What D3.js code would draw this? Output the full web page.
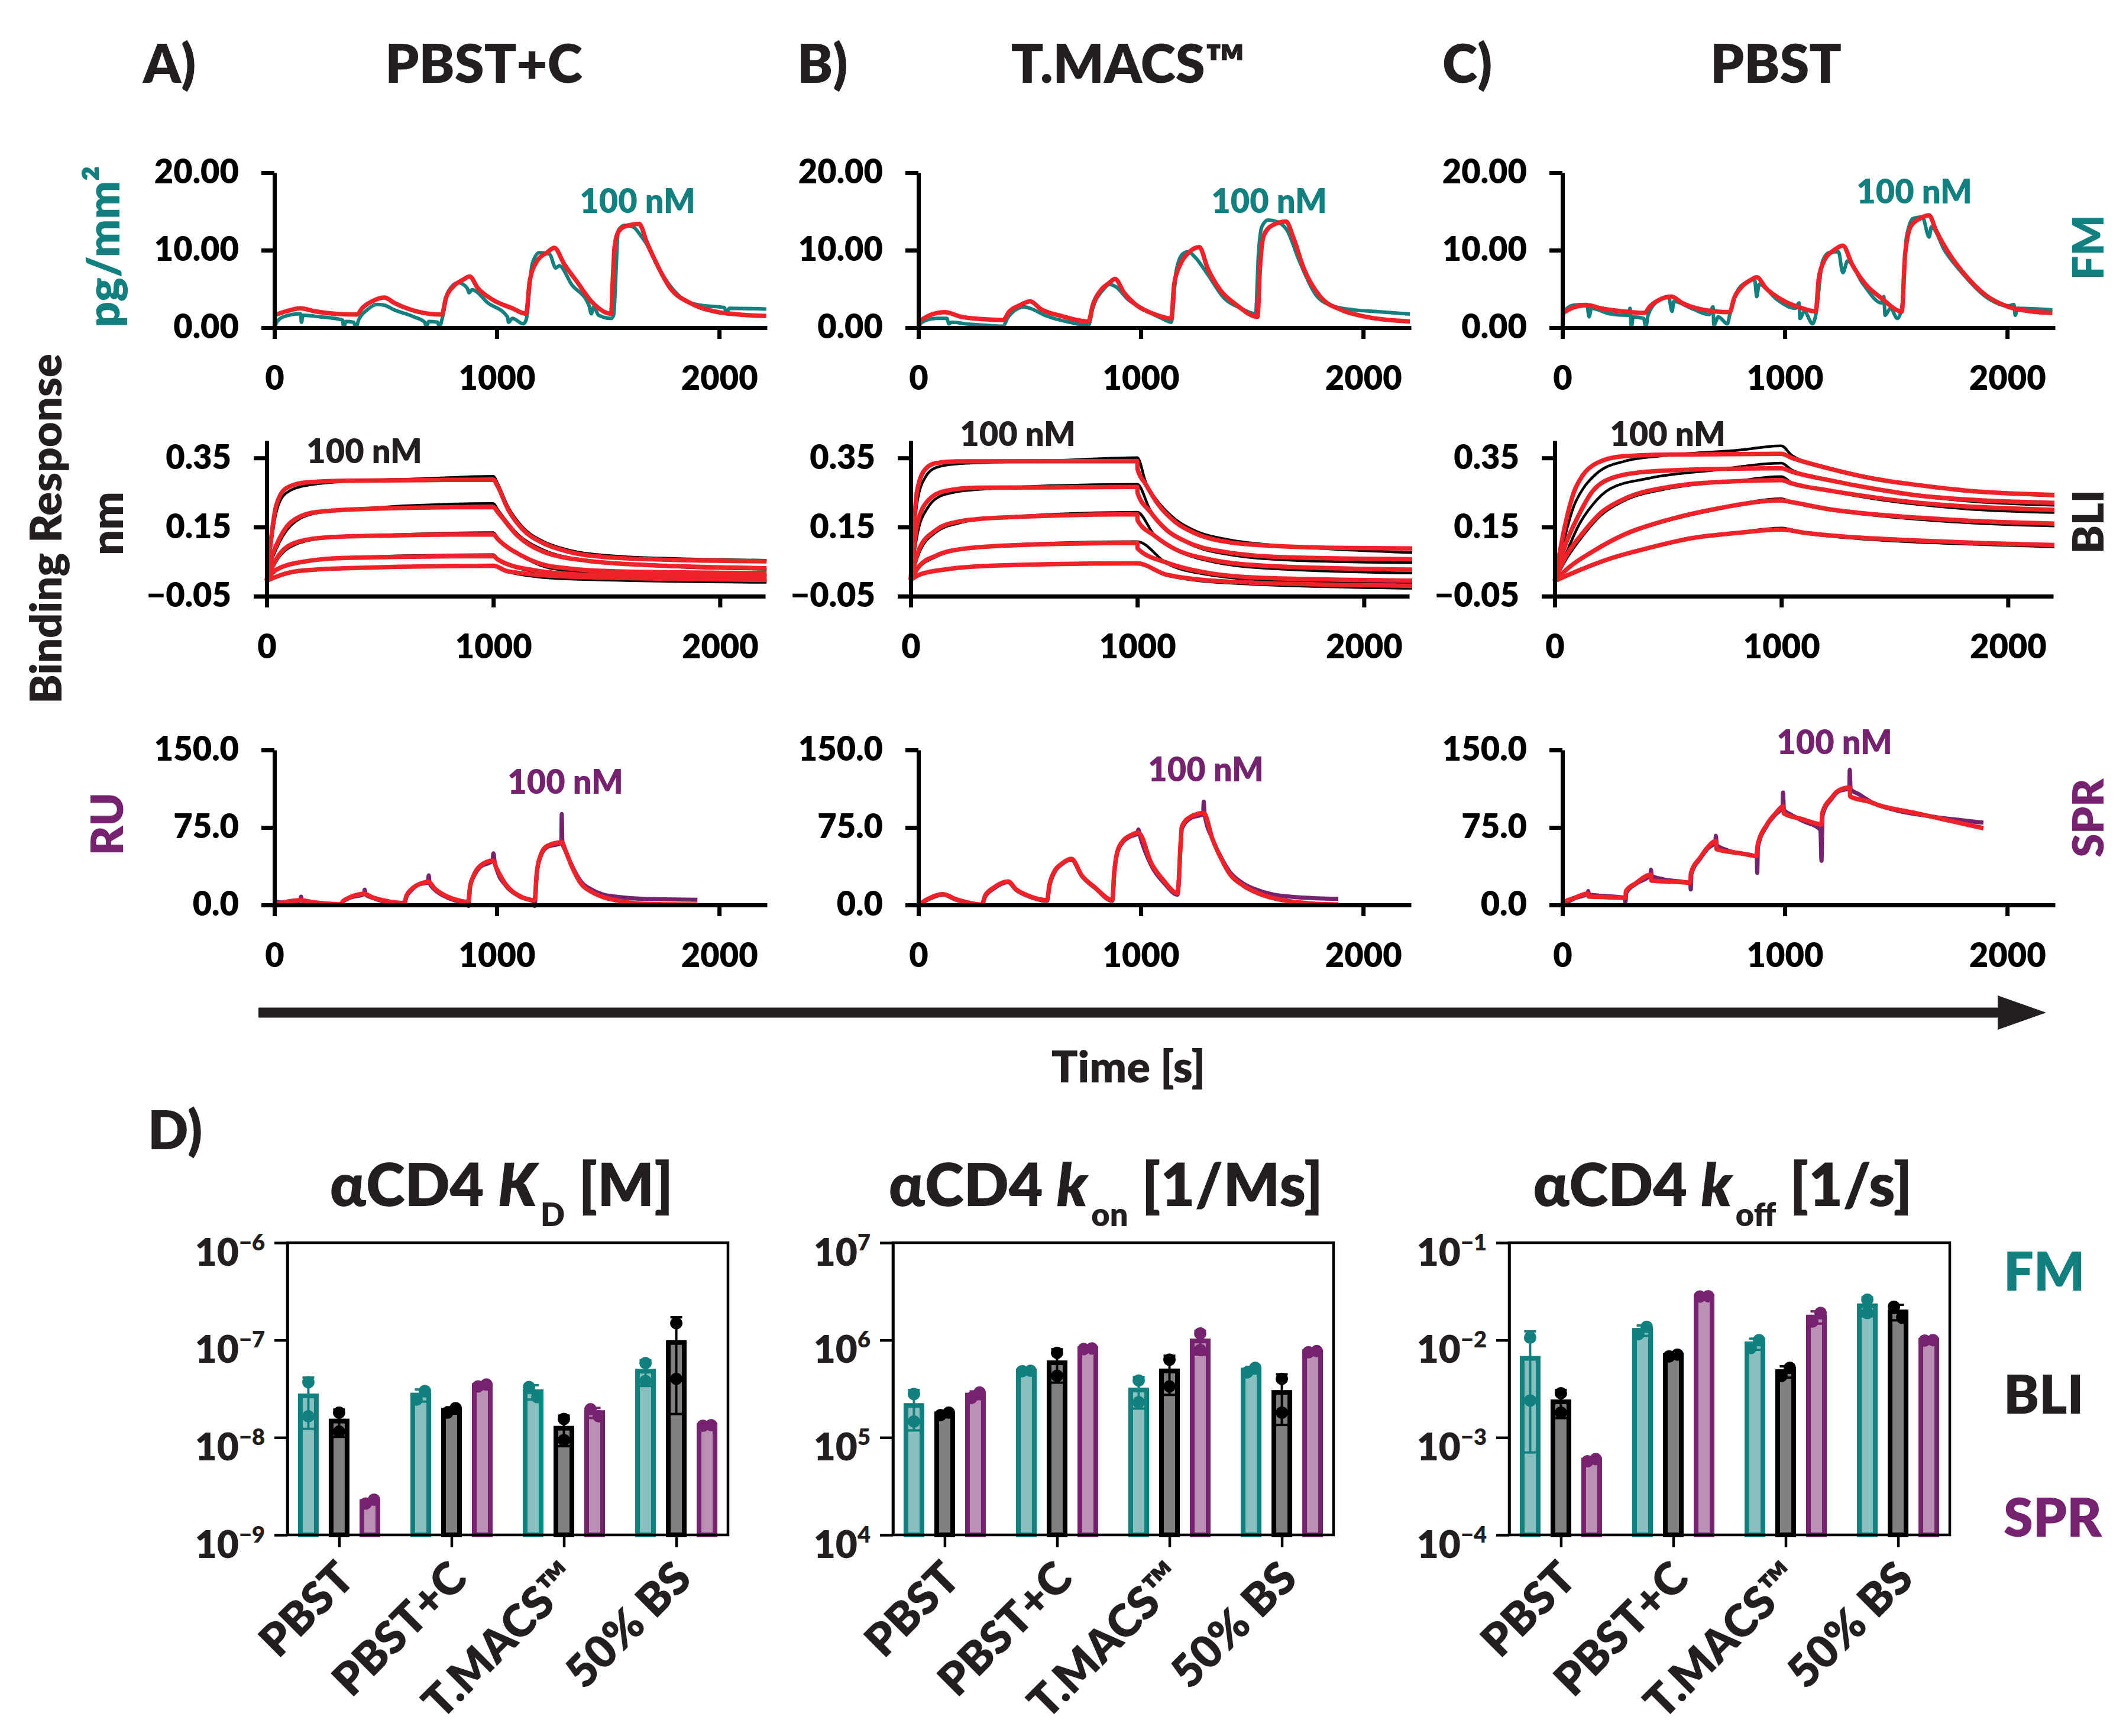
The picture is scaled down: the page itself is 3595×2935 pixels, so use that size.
<!DOCTYPE html>
<html>
<head>
<meta charset="utf-8">
<script src="https://d3js.org/d3.v7.min.js"></script>
<style>
  body { margin: 0; background: #fff; }
  text { font-family: Lato, "Open Sans", sans-serif; font-weight: 800; }
</style>
</head>
<body>
<svg id="fig" width="3595" height="2935"></svg>
<script>
// ---- sensorgram data: [time s, response] ----
// panel A (PBST+C)
const fmFitA = [[0,1.6],[51,2.1],[117,2.5],[184,2.1],[273,1.8],[372,1.7],[394,2.5],[439,3.4],[494,3.9],[539,3.2],[605,2.4],[694,1.8],[753,1.7],[771,3.8],[804,5.3],[849,6.2],[878,6.6],[915,5.1],[982,3.6],[1070,2.5],[1132,1.8],[1148,6.0],[1181,8.6],[1226,9.7],[1259,10.3],[1303,8.2],[1359,6.0],[1425,3.4],[1514,1.8],[1522,6.5],[1530,10.5],[1545,12.3],[1570,13.0],[1610,13.3],[1640,13.4],[1675,11.0],[1713,8.6],[1780,5.1],[1868,3.2],[1979,2.1],[2090,1.7],[2212,1.5]];
const fmObsA = [[0,0],[11,0.7],[40,1.4],[117,1.8],[122,0.7],[128,1.6],[206,1.4],[306,1.0],[312,0],[321,0.8],[357,0.7],[366,0],[379,1.0],[417,2.3],[461,3.0],[494,2.9],[539,2.3],[627,1.4],[676,0.7],[683,0],[694,0.8],[734,0.7],[742,0],[753,1.0],[782,4.7],[827,5.8],[867,5.1],[875,4.5],[889,4.9],[960,3.2],[1048,1.4],[1053,0.7],[1070,1.2],[1119,0.5],[1132,1.0],[1159,8.2],[1192,9.7],[1237,9.5],[1265,7.7],[1281,8.0],[1336,5.6],[1414,2.9],[1425,1.8],[1436,2.7],[1458,1.6],[1514,1.2],[1525,1.6],[1547,12.6],[1576,13.2],[1613,13.0],[1647,11.9],[1669,11.0],[1735,7.3],[1824,4.0],[1913,2.9],[2023,2.6],[2034,1.8],[2045,2.5],[2212,2.4]];
const bliFitA = [
  [[0,-0.005],[20,0.12],[41,0.21],[85,0.262],[172,0.279],[346,0.284],[700,0.286],[1000,0.287],[1020,0.267],[1064,0.203],[1129,0.144],[1216,0.105],[1325,0.08],[1543,0.061],[1869,0.054],[2206,0.051]],
  [[0,-0.005],[20,0.06],[41,0.095],[107,0.164],[215,0.193],[455,0.203],[1000,0.208],[1020,0.193],[1107,0.125],[1216,0.08],[1434,0.051],[1760,0.038],[2206,0.031]],
  [[0,-0.005],[41,0.056],[128,0.105],[259,0.12],[564,0.126],[1000,0.129],[1020,0.115],[1129,0.066],[1260,0.036],[1543,0.022],[2206,0.017]],
  [[0,-0.005],[41,0.026],[172,0.051],[346,0.061],[1000,0.066],[1020,0.056],[1173,0.026],[1434,0.012],[2206,0.007]],
  [[0,-0.005],[128,0.022],[346,0.031],[1000,0.038],[1064,0.022],[1325,0.007],[2206,-0.003]]
];
const bliObsA = [
  [[0,-0.005],[20,0.1],[41,0.19],[85,0.248],[172,0.27],[346,0.282],[700,0.29],[1000,0.297],[1020,0.275],[1064,0.21],[1129,0.15],[1216,0.11],[1325,0.085],[1543,0.066],[1869,0.058],[2206,0.054]],
  [[0,-0.005],[20,0.05],[41,0.085],[107,0.155],[215,0.19],[455,0.205],[1000,0.218],[1020,0.2],[1107,0.13],[1216,0.085],[1434,0.052],[1760,0.036],[2206,0.028]],
  [[0,-0.005],[41,0.05],[128,0.1],[259,0.118],[564,0.128],[1000,0.134],[1020,0.118],[1129,0.065],[1260,0.03],[1543,0.015],[2206,0.01]],
  [[0,-0.005],[41,0.024],[172,0.05],[346,0.062],[1000,0.07],[1020,0.058],[1173,0.022],[1434,0.005],[2206,-0.003]],
  [[0,-0.005],[128,0.02],[346,0.03],[1000,0.04],[1064,0.02],[1325,0.0],[2206,-0.01]]
];
const sprFitA = [[0,0.5],[40,2.5],[117,4.6],[170,2.8],[230,1.5],[295,0.6],[310,4],[340,7.5],[405,10.7],[440,7.5],[500,4],[583,1.8],[594,9],[615,15],[645,19.5],[694,22.4],[720,16],[760,10],[810,5.5],[871,3],[880,18],[895,28],[926,38],[982,43],[1000,35],[1040,20],[1100,9],[1170,4.6],[1180,32],[1197,48],[1226,57],[1292,60.7],[1310,52],[1336,38],[1381,20],[1425,12.8],[1480,7.5],[1536,4.6],[1647,1.3],[1750,0.6],[1902,0.5]];
const sprObsA = [[0,0],[5,3],[40,2.2],[117,4.0],[120,8],[123,4],[170,2.5],[230,1.0],[295,0],[310,3.5],[340,7],[403,10.5],[406,14.8],[410,10],[440,7],[500,3],[583,0.5],[594,8],[615,14],[645,19.5],[690,22],[694,28.6],[698,21],[720,15],[760,9],[810,4.5],[871,2],[873,-1],[880,18],[895,27],[926,37],[980,42.5],[985,50],[990,42],[1000,34],[1040,19],[1100,8.5],[1168,3],[1170,-1],[1180,31],[1197,47],[1226,56],[1290,60],[1292,88],[1295,60],[1310,52],[1336,39],[1381,22],[1425,15],[1480,10],[1536,8],[1647,6],[1750,5.5],[1902,5]];

// panel B (T.MACS)
const fmFitB = [[0,0.74],[43,1.5],[118,2.0],[193,1.4],[287,1.1],[381,1.0],[409,2.1],[456,2.9],[503,3.4],[550,2.4],[644,1.5],[765,0.8],[784,2.9],[822,4.9],[859,5.8],[884,6.3],[925,4.5],[981,2.9],[1056,1.8],[1137,1.2],[1150,5.6],[1178,8.2],[1216,9.7],[1263,10.4],[1300,7.7],[1356,4.9],[1432,2.9],[1525,1.4],[1535,7.3],[1553,11.9],[1591,13.2],[1653,13.7],[1685,11.7],[1732,7.7],[1807,4.0],[1901,2.3],[2013,1.4],[2210,0.8]];
const fmObsB = [[0,0],[15,0.7],[81,1.2],[128,1.2],[137,0.5],[150,0.7],[212,0.5],[306,0.3],[381,0.2],[400,1.2],[437,2.3],[475,2.7],[503,2.5],[568,1.6],[681,0.7],[765,0.3],[784,2.5],[831,4.9],[859,5.6],[887,5.3],[944,3.6],[1019,2.3],[1094,1.2],[1137,0.7],[1159,7.3],[1188,9.5],[1212,9.8],[1244,9.1],[1300,6.9],[1375,3.8],[1450,2.5],[1516,1.8],[1529,9.5],[1544,13.0],[1572,13.9],[1610,13.7],[1657,12.6],[1713,8.6],[1788,4.2],[1863,2.8],[1957,2.3],[2051,2.1],[2210,1.75]];
const bliFitB = [
  [[0,-0.003],[28,0.254],[65,0.318],[111,0.335],[204,0.34],[1000,0.341],[1001,0.318],[1037,0.274],[1093,0.215],[1167,0.165],[1259,0.131],[1407,0.106],[1593,0.096],[1870,0.09],[2213,0.088]],
  [[0,-0.003],[28,0.155],[74,0.225],[148,0.254],[296,0.264],[1000,0.266],[1001,0.249],[1056,0.195],[1130,0.141],[1222,0.106],[1407,0.076],[1685,0.062],[2213,0.057]],
  [[0,-0.003],[37,0.086],[111,0.141],[204,0.165],[389,0.177],[1000,0.187],[1001,0.17],[1074,0.126],[1167,0.086],[1315,0.057],[1593,0.037],[2213,0.027]],
  [[0,-0.003],[37,0.037],[111,0.067],[241,0.088],[481,0.098],[1000,0.104],[1001,0.088],[1130,0.047],[1315,0.017],[1593,0.002],[2213,-0.005]],
  [[0,-0.003],[37,0.012],[148,0.027],[389,0.039],[1000,0.045],[1130,0.012],[1407,-0.008],[2213,-0.02]]
];
const bliObsB = [
  [[0,-0.003],[28,0.22],[65,0.295],[111,0.322],[204,0.333],[667,0.343],[1000,0.351],[1037,0.28],[1093,0.222],[1167,0.173],[1259,0.138],[1407,0.113],[1593,0.098],[1870,0.086],[2213,0.076]],
  [[0,-0.003],[28,0.125],[74,0.205],[148,0.244],[296,0.259],[1000,0.274],[1056,0.2],[1130,0.143],[1222,0.104],[1407,0.07],[1685,0.054],[2213,0.047]],
  [[0,-0.003],[37,0.075],[111,0.135],[204,0.16],[389,0.177],[1000,0.193],[1074,0.128],[1167,0.085],[1315,0.052],[1593,0.03],[2213,0.017]],
  [[0,-0.003],[37,0.033],[111,0.064],[241,0.087],[481,0.1],[1000,0.108],[1130,0.045],[1315,0.012],[1593,-0.004],[2213,-0.012]],
  [[0,-0.003],[37,0.01],[148,0.026],[389,0.04],[1000,0.047],[1130,0.01],[1407,-0.012],[2213,-0.027]]
];
const sprFitB = [[0,0],[40,5.5],[109,10.4],[170,5.5],[230,2],[285,0.3],[300,9],[340,17],[403,22.8],[440,15],[500,8.5],[579,4.7],[588,18],[610,32],[645,40],[688,44.6],[735,28.5],[794,17],[872,4.7],[880,30],[895,52],[920,62],[950,67],[989,70],[1048,40],[1106,22.8],[1165,11.4],[1185,76],[1224,85.4],[1283,89],[1322,64],[1361,45],[1400,30],[1459,19],[1517,12.3],[1595,6.6],[1673,3.4],[1790,1],[1888,0.4]];
const sprObsB = [[0,0],[40,5],[109,10],[170,5],[230,1.5],[285,0],[300,8],[340,16],[403,22],[440,14.5],[500,8],[579,4],[588,17],[610,31],[645,39.5],[688,44],[735,28],[794,16.5],[872,4],[880,29],[895,51],[920,61],[950,66],[985,69],[989,73],[995,68],[1048,38],[1106,21],[1165,10],[1185,74],[1224,84],[1280,88],[1283,100],[1287,88],[1322,64],[1361,46],[1400,32],[1459,21],[1517,15],[1595,10],[1673,8],[1790,6.5],[1888,6]];

// panel C (PBST)
const fmFitC = [[0,1.84],[49,2.6],[114,2.9],[171,2.5],[273,2.1],[369,1.9],[395,2.8],[436,3.6],[491,4.0],[538,3.2],[620,2.4],[752,2.0],[772,3.8],[807,5.3],[844,6.1],[874,6.5],[915,5.1],[986,3.6],[1068,2.6],[1139,2.1],[1153,6.4],[1180,8.8],[1221,10.0],[1261,10.6],[1302,8.2],[1363,5.6],[1435,3.8],[1526,2.1],[1541,9.5],[1567,13.1],[1608,14.1],[1649,14.5],[1679,12.6],[1740,9.5],[1802,7.1],[1903,4.2],[2005,2.7],[2107,2.1],[2203,1.9]];
const fmObsC = [[0,0],[8,2.1],[49,2.9],[110,3.0],[120,1.4],[130,2.5],[212,1.8],[298,1.6],[304,2.5],[310,0],[318,1.4],[365,1.2],[375,0],[385,1.6],[436,3.6],[477,4.0],[493,2.1],[501,3.4],[579,2.5],[660,1.7],[677,2.7],[681,0.3],[701,1.4],[742,0.5],[752,1.6],[783,4.5],[823,5.8],[864,6.2],[874,4.0],[884,5.6],[966,3.6],[1047,2.5],[1064,3.2],[1068,1.2],[1088,2.1],[1125,0.5],[1139,1.6],[1170,8.6],[1200,9.7],[1241,9.8],[1261,7.1],[1282,8.6],[1353,5.6],[1435,3.2],[1445,4.0],[1451,1.6],[1475,2.5],[1506,1.2],[1526,2.5],[1547,11.7],[1577,14.1],[1618,14.3],[1649,11.7],[1659,13.0],[1720,9.9],[1802,6.9],[1903,4.0],[2005,2.8],[2030,3.0],[2036,1.6],[2046,2.5],[2203,2.3]];
const bliFitC = [
  [[0,-0.006],[44,0.15],[84,0.25],[124,0.3],[185,0.335],[305,0.355],[506,0.36],[1000,0.362],[1047,0.35],[1208,0.32],[1408,0.29],[1609,0.271],[1809,0.256],[2205,0.243]],
  [[0,-0.006],[44,0.093],[104,0.182],[164,0.251],[245,0.29],[405,0.31],[706,0.318],[1000,0.32],[1047,0.31],[1208,0.286],[1408,0.261],[1609,0.241],[1809,0.23],[2205,0.22]],
  [[0,-0.006],[44,0.059],[124,0.133],[205,0.192],[305,0.231],[506,0.266],[806,0.283],[1000,0.286],[1047,0.276],[1208,0.256],[1408,0.236],[1609,0.22],[1809,0.21],[2205,0.2]],
  [[0,-0.006],[64,0.034],[164,0.078],[305,0.128],[506,0.172],[706,0.202],[1000,0.227],[1047,0.222],[1208,0.202],[1408,0.187],[1609,0.177],[1809,0.169],[2205,0.16]],
  [[0,-0.006],[104,0.024],[245,0.059],[405,0.088],[606,0.118],[806,0.133],[1000,0.143],[1107,0.133],[1308,0.121],[1609,0.111],[1910,0.103],[2205,0.098]]
];
const bliObsC = [
  [[0,-0.006],[44,0.12],[84,0.21],[124,0.26],[185,0.305],[305,0.34],[506,0.358],[806,0.372],[1000,0.385],[1047,0.357],[1208,0.322],[1408,0.292],[1609,0.271],[1809,0.256],[2205,0.24]],
  [[0,-0.006],[44,0.063],[104,0.153],[164,0.212],[245,0.261],[405,0.29],[706,0.315],[1000,0.335],[1047,0.315],[1208,0.288],[1408,0.262],[1609,0.24],[1809,0.226],[2205,0.213]],
  [[0,-0.006],[44,0.05],[124,0.125],[205,0.185],[305,0.226],[506,0.262],[806,0.284],[1000,0.296],[1047,0.278],[1208,0.255],[1408,0.232],[1609,0.215],[1809,0.203],[2205,0.192]],
  [[0,-0.006],[64,0.032],[164,0.076],[305,0.126],[506,0.17],[706,0.2],[1000,0.232],[1047,0.222],[1208,0.2],[1408,0.184],[1609,0.172],[1809,0.163],[2205,0.153]],
  [[0,-0.006],[104,0.022],[245,0.057],[405,0.087],[606,0.117],[806,0.134],[1000,0.147],[1107,0.132],[1308,0.118],[1609,0.106],[1910,0.099],[2205,0.093]]
];
const sprFitC = [[0,2.5],[50,6.5],[115,11],[117,8.2],[200,7.5],[283,6.9],[286,13.4],[330,21],[398,29.3],[400,23.6],[500,22.5],[575,21.6],[578,31],[620,46],[650,55],[690,61.9],[693,54],[800,50],[874,47.5],[877,57],[920,78],[960,89],[992,95.4],[995,88.7],[1080,83],[1165,78],[1168,88.7],[1211,104],[1241,110.7],[1292,113.6],[1294,105],[1379,100],[1425,96.4],[1579,89.3],[1732,82],[1893,74.3]];
const sprObsC = [[0,0],[50,6],[113,11],[116,13.4],[120,10],[200,8.5],[281,7],[283,2.5],[288,12],[330,20.5],[396,29],[398,34],[402,28],[450,25],[575,21],[577,15],[580,30],[620,45],[650,54],[688,61.5],[690,67],[694,58],[740,53],[874,46.5],[876,31],[879,56],[920,77],[960,88],[990,95],[992,108.8],[996,92],[1025,87.7],[1085,81],[1160,72.8],[1165,42.7],[1170,87],[1211,103],[1241,110],[1290,113],[1292,130.8],[1296,112],[1334,107],[1395,99],[1502,91.6],[1655,85.8],[1893,79.7]];

// ---- kinetic constants, two replicates per bar ----
const buffers = ["PBST", "PBST+C", "T.MACS™", "50% BS"];
const kdFM   = [[3.7e-8,1.65e-8],[2.45e-8,3.0e-8],[3.3e-8,2.6e-8],[5.8e-8,3.8e-8]];
const kdBLI  = [[1.8e-8,1.15e-8],[1.8e-8,2.0e-8],[1.55e-8,9.4e-9],[1.49e-7,4.0e-8]];
const kdSPR  = [[2.1e-9,2.3e-9],[3.35e-8,3.5e-8],[1.95e-8,1.65e-8],[1.32e-8,1.34e-8]];
const konFM  = [[2.8e5,1.46e5],[4.8e5,4.85e5],[3.85e5,2.3e5],[4.65e5,5.2e5]];
const konBLI = [[1.7e5,1.8e5],[7.4e5,4.3e5],[6.3e5,3.35e5],[4.0e5,1.8e5]];
const konSPR = [[2.55e5,2.9e5],[8.1e5,8.2e5],[1.17e6,7.9e5],[7.5e5,7.7e5]];
const koffFM  = [[1.06e-2,2.4e-3],[1.15e-2,1.37e-2],[8.3e-3,1.0e-2],[2.6e-2,1.9e-2]];
const koffBLI = [[2.85e-3,1.8e-3],[6.8e-3,7.1e-3],[4.3e-3,5.2e-3],[2.2e-2,1.7e-2]];
const koffSPR = [[5.7e-4,6.0e-4],[2.8e-2,2.82e-2],[1.55e-2,1.9e-2],[9.9e-3,1.0e-2]];

const TEAL = "#11807f", PURPLE = "#76236f", RED = "#ee2229", INK = "#231f20";
const svg = d3.select("#fig");
const panelDx = [0, 1089, 2178];

function label(x, y, txt, size, color, anchor, rot) {
  const t = svg.append("text")
    .attr("transform", "translate(" + x + "," + y + ")" + (rot ? " rotate(" + rot + ")" : ""))
    .attr("font-size", size).attr("fill", color || INK)
    .attr("text-anchor", anchor || "middle");
  t.text(txt);
  return t;
}

function styleAxis(g, width, size) {
  g.attr("font-family", null).attr("font-size", null);
  g.selectAll("path, line").attr("stroke", "#000").attr("stroke-width", width);
  g.selectAll("text").attr("font-size", size).attr("fill", "#000");
}

// one sensorgram plot
function kinetic(dx, c) {
  const x = d3.scaleLinear().domain([0, c.xMax]).range([c.x0 + dx, c.x0 + dx + c.w]);
  const y = d3.scaleLinear().domain(c.yDomain).range([c.yBottom, c.yTop]);
  const line = d3.line().x(d => x(d[0])).y(d => y(d[1])).curve(d3.curveMonotoneX);
  const g = svg.append("g");

  g.selectAll(".obs").data(c.obs).enter().append("path")
    .attr("d", line).attr("fill", "none")
    .attr("stroke", c.obsColor).attr("stroke-width", c.obsWidth)
    .attr("stroke-linejoin", "round");
  g.selectAll(".fit").data(c.fit).enter().append("path")
    .attr("d", line).attr("fill", "none")
    .attr("stroke", RED).attr("stroke-width", 7.5)
    .attr("stroke-linejoin", "round");

  const ya = svg.append("g")
    .attr("transform", "translate(" + x(0) + ",0)")
    .call(d3.axisLeft(y).tickValues(c.yTicks).tickFormat(c.yFmt)
      .tickSize(22).tickSizeOuter(0).tickPadding(38));
  styleAxis(ya, 7, 56);
  const xa = svg.append("g")
    .attr("transform", "translate(0," + y(c.yDomain[0]) + ")")
    .call(d3.axisBottom(x).tickValues([0, 1000, 2000]).tickFormat(d3.format("d"))
      .tickSize(19).tickSizeOuter(0).tickPadding(46));
  styleAxis(xa, 7, 56);
}

const fmCfg  = { xMax: 2215, x0: 464, w: 833, yDomain: [0, 20], yTop: 292, yBottom: 554,
  yTicks: [0, 10, 20], yFmt: d3.format(".2f"), obsColor: TEAL, obsWidth: 6 };
const bliCfg = { xMax: 2200, x0: 451, w: 843, yDomain: [-0.05, 0.40], yTop: 745, yBottom: 1008,
  yTicks: [-0.05, 0.15, 0.35], yFmt: d3.format(".2f"), obsColor: "#000", obsWidth: 4.5 };
const sprCfg = { xMax: 2215, x0: 464, w: 833, yDomain: [0, 150], yTop: 1268, yBottom: 1530,
  yTicks: [0, 75, 150], yFmt: d3.format(".1f"), obsColor: PURPLE, obsWidth: 7 };

const fmSets  = [[fmObsA, fmFitA], [fmObsB, fmFitB], [fmObsC, fmFitC]];
const bliSets = [[bliObsA, bliFitA], [bliObsB, bliFitB], [bliObsC, bliFitC]];
const sprSets = [[sprObsA, sprFitA], [sprObsB, sprFitB], [sprObsC, sprFitC]];

panelDx.forEach((dx, i) => {
  kinetic(dx, Object.assign({}, fmCfg,  { obs: [fmSets[i][0]],  fit: [fmSets[i][1]] }));
  kinetic(dx, Object.assign({}, bliCfg, { obs: bliSets[i][0],   fit: bliSets[i][1] }));
  kinetic(dx, Object.assign({}, sprCfg, { obs: [sprSets[i][0]], fit: [sprSets[i][1]] }));
});

// panel headers
[["A)", 242, "PBST+C", 818], ["B)", 1348, "T.MACS™", 1908], ["C)", 2439, "PBST", 3003]].forEach(h => {
  label(h[1], 140, h[0], 90, INK, "start");
  label(h[3], 140, h[2], 90, INK, "middle");
});

// "100 nM" tags
[[1078, 360, TEAL], [616, 783, INK], [956, 1342, PURPLE],
 [2146, 360, TEAL], [1721, 754, INK], [2039, 1321, PURPLE],
 [3237, 344, TEAL], [2820, 754, INK], [3102, 1275, PURPLE]].forEach(p => label(p[0], p[1], "100 nM", 56, p[2]));

// axis titles
label(104, 894, "Binding Response", 74, INK, "middle", -90);
label(202, 417, "pg/mm²", 76, TEAL, "middle", -90);
label(208, 885, "nm", 76, INK, "middle", -90);
label(208, 1393, "RU", 76, PURPLE, "middle", -90);
label(3557, 418, "FM", 72, TEAL, "middle", -90);
label(3557, 882, "BLI", 72, INK, "middle", -90);
label(3557, 1383, "SPR", 72, PURPLE, "middle", -90);

// time arrow
svg.append("line").attr("x1", 437).attr("x2", 3400).attr("y1", 1712).attr("y2", 1712)
  .attr("stroke", INK).attr("stroke-width", 17);
svg.append("path").attr("d", "M3378,1683 L3460,1712 L3378,1741 Z").attr("fill", INK);
label(1908, 1830, "Time [s]", 74, INK);

label(250, 1943, "D)", 90, INK, "start");

// ---- bar charts ----
const seriesStyle = [
  { stroke: TEAL, fill: "#88bfbf", off: -52 },
  { stroke: "#000", fill: "#808080", off: 0 },
  { stroke: PURPLE, fill: "#bc8fb5", off: 52 }
];

function barPanel(bx0, title, sub, unit, titleX, domain, expo, sets) {
  const top = 2101, bottom = 2595, bw = 745;
  const y = d3.scaleLog().domain(domain).range([bottom, top]);
  const xp = d3.scalePoint().domain(buffers).range([bx0, bx0 + bw]).padding(0.46);
  const g = svg.append("g");

  sets.forEach((vals, s) => {
    const st = seriesStyle[s];
    vals.forEach((rep, i) => {
      const cx = xp(buffers[i]) + st.off;
      const m = d3.mean(rep), sd = d3.deviation(rep);
      g.append("rect").attr("x", cx - 13.5).attr("width", 27)
        .attr("y", y(m)).attr("height", bottom - y(m))
        .attr("fill", st.fill).attr("stroke", st.stroke).attr("stroke-width", 8);
      const lo = Math.max(m - sd, domain[0]), hi = m + sd;
      g.append("line").attr("x1", cx).attr("x2", cx).attr("y1", y(lo)).attr("y2", y(hi))
        .attr("stroke", st.stroke).attr("stroke-width", 4);
      [lo, hi].forEach(v => g.append("line").attr("x1", cx - 10).attr("x2", cx + 10)
        .attr("y1", y(v)).attr("y2", y(v)).attr("stroke", st.stroke).attr("stroke-width", 4));
      const ys = rep.map(v => y(v));
      const close = Math.abs(ys[0] - ys[1]) < 22;
      rep.forEach((v, k) => g.append("circle")
        .attr("cx", cx + (close ? (k === 0 ? -7 : 7) : 0)).attr("cy", y(v)).attr("r", 10.5)
        .attr("fill", st.stroke));
    });
  });

  g.append("rect").attr("x", bx0).attr("y", top).attr("width", bw).attr("height", bottom - top)
    .attr("fill", "none").attr("stroke", "#000").attr("stroke-width", 4.5);

  const ya = svg.append("g").attr("transform", "translate(" + bx0 + ",0)")
    .call(d3.axisLeft(y).tickValues(expo.map(e => Math.pow(10, e)))
      .tickSize(22).tickSizeOuter(0).tickPadding(16).tickFormat(""));
  styleAxis(ya, 4.5, 64);
  ya.selectAll(".tick").append("text")
    .attr("x", -38).attr("y", 38).attr("text-anchor", "end").attr("fill", INK)
    .each(function (d) {
      const e = Math.round(Math.log10(d));
      const t = d3.select(this);
      t.append("tspan").attr("font-size", 64).text("10");
      t.append("tspan").attr("font-size", 38).attr("dy", -26).text(e < 0 ? "−" + (-e) : String(e));
    });

  const xa = svg.append("g").attr("transform", "translate(0," + bottom + ")")
    .call(d3.axisBottom(xp).tickSize(21).tickSizeOuter(0).tickFormat(""));
  styleAxis(xa, 4.5, 64);
  xa.select(".domain").remove();
  buffers.forEach(b => label(xp(b) + 30, bottom + 78, b, 76, INK, "end", -45));

  const t = svg.append("text").attr("x", titleX).attr("y", 2039)
    .attr("text-anchor", "middle").attr("font-size", 100).attr("fill", INK);
  t.append("tspan").text("αCD4 ");
  t.append("tspan").attr("font-style", "italic").text(title);
  t.append("tspan").attr("font-size", 54).attr("dy", 34).attr("dx", 6).text(sub);
  t.append("tspan").attr("dy", -34).text(" " + unit);
}

barPanel(486,  "K", "D",   "[M]",    848,  [1e-9, 1e-6], [-9, -8, -7, -6], [kdFM, kdBLI, kdSPR]);
barPanel(1510, "k", "on",  "[1/Ms]", 1870, [1e4, 1e7],   [4, 5, 6, 7],     [konFM, konBLI, konSPR]);
barPanel(2552, "k", "off", "[1/s]",  2913, [1e-4, 1e-1], [-4, -3, -2, -1], [koffFM, koffBLI, koffSPR]);

// legend
label(3388, 2182, "FM", 90, TEAL, "start");
label(3388, 2390, "BLI", 90, INK, "start");
label(3388, 2598, "SPR", 90, PURPLE, "start");
</script>
</body>
</html>
